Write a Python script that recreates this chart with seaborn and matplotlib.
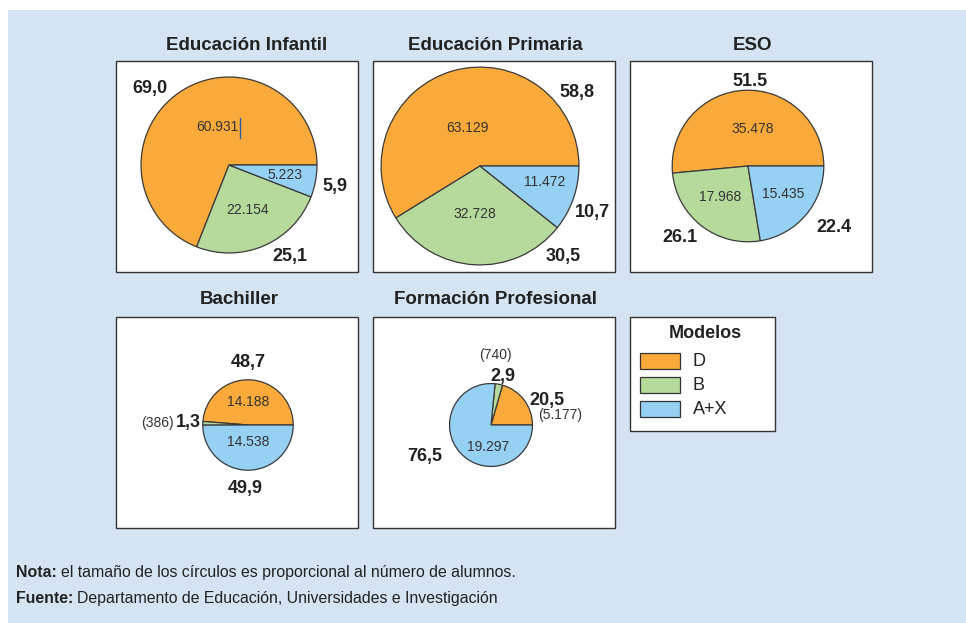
import matplotlib
matplotlib.use("Agg")
import matplotlib.pyplot as plt
from matplotlib.patches import Rectangle
import seaborn as sns

# Alumnado por modelo lingüístico y nivel educativo
levels = ["Educación Infantil", "Educación Primaria", "ESO", "Bachiller",
          "Formación Profesional"]
models = ["D", "B", "A+X"]
students_D = [60931, 63129, 35478, 14188, 5177]
students_B = [22154, 32728, 17968, 386, 740]
students_AX = [5223, 11472, 15435, 14538, 19297]
share_D = [69.0, 58.8, 51.5, 48.7, 20.5]
share_B = [25.1, 30.5, 26.1, 1.3, 2.9]
share_AX = [5.9, 10.7, 22.4, 49.9, 76.5]
decimal_mark = [",", ",", ".", ",", ","]

nota = "el tamaño de los círculos es proporcional al número de alumnos."
fuente = "Departamento de Educación, Universidades e Investigación"

sns.set_theme(style="white")
plt.rcParams["font.family"] = ["Liberation Sans", "DejaVu Sans"]

palette = sns.color_palette(["#F9AA3A", "#B6D99C", "#96D0F3"])
BG = "#D5E4F3"
INK = "#222222"
EDGE = "#3a3a3a"

W, H = 966, 623
fig = plt.figure(figsize=(W / 100, H / 100), dpi=100)
ax = fig.add_axes([0, 0, 1, 1])


def fy(y):
    return H - y


# panel background
ax.add_patch(Rectangle((8, 0), W - 8, H - 10, facecolor=BG, edgecolor="none", zorder=0))

# panel geometry: frame (x0, y0, x1, y1), pie centre, label positions
layout = [
    dict(box=(116, 61, 358, 272), title=(247, 45), center=(229, 165),
         pct=[(150, 89), (290, 257), (335, 186)],
         cnt=[(217, 127), (248, 210), (285, 175)], outside=[]),
    dict(box=(373, 61, 615, 272), title=(495, 45), center=(480, 166),
         pct=[(577, 92), (563, 257), (592, 213)],
         cnt=[(467, 128), (475, 214), (545, 182)], outside=[]),
    dict(box=(630, 61, 872, 272), title=(752, 45), center=(748, 166),
         pct=[(750, 82), (680, 238), (834, 227)],
         cnt=[(753, 129), (720, 197), (783, 194)], outside=[]),
    dict(box=(116, 317, 358, 528), title=(239, 300), center=(248, 425),
         pct=[(248, 363), (188, 423), (245, 488)],
         cnt=[(248, 402), (157, 423), (248, 442)], outside=[1]),
    dict(box=(373, 317, 615, 528), title=(495, 300), center=(491, 425),
         pct=[(547, 400), (503, 376), (425, 457)],
         cnt=[(560, 415), (495, 355), (488, 447)], outside=[0, 1]),
]


def fmt_count(n):
    return f"{n:,}".replace(",", ".")


totals = [d + b + a for d, b, a in zip(students_D, students_B, students_AX)]
# circle size grows with the number of students
scale = 0.0948

for i, lay in enumerate(layout):
    x0, y0, x1, y1 = lay["box"]
    ax.add_patch(Rectangle((x0, fy(y1)), x1 - x0, y1 - y0, facecolor="white",
                           edgecolor="#333333", linewidth=1.0, zorder=1))
    ax.text(lay["title"][0], fy(lay["title"][1]), levels[i], ha="center", va="center",
            fontsize=13.5, fontweight="bold", color=INK, zorder=5)

    shares = [share_D[i], share_B[i], share_AX[i]]
    counts = [students_D[i], students_B[i], students_AX[i]]
    radius = scale * totals[i] ** 0.6
    cx, cy = lay["center"]
    ax.pie(shares, colors=palette, startangle=0, counterclock=True,
           center=(cx, fy(cy)), radius=radius, frame=True,
           wedgeprops=dict(edgecolor=EDGE, linewidth=0.9, zorder=2))

    for j in range(3):
        px, pyy = lay["pct"][j]
        txt = f"{shares[j]:.1f}".replace(".", decimal_mark[i])
        ax.text(px, fy(pyy), txt, ha="center", va="center", fontsize=13,
                fontweight="bold", color=INK, zorder=5)
        qx, qy = lay["cnt"][j]
        if j in lay["outside"]:
            ax.text(qx, fy(qy), f"({fmt_count(counts[j])})", ha="center",
                    va="center", fontsize=10, color="#333333", zorder=5)
        else:
            ax.text(qx, fy(qy), fmt_count(counts[j]), ha="center", va="center",
                    fontsize=10, color="#333333", zorder=5)

# text caret left next to the first label
ax.plot([240, 240], [fy(118), fy(138)], color="#3355aa", linewidth=1.0, zorder=6)

ax.set_xlim(0, W)
ax.set_ylim(0, H)
ax.set_aspect("equal")
ax.axis("off")

# legend
ax.add_patch(Rectangle((630, fy(431)), 145, 114, facecolor="white",
                       edgecolor="#333333", linewidth=1.0, zorder=1))
ax.text(705, fy(333), "Modelos", ha="center", va="center", fontsize=13,
        fontweight="bold", color=INK, zorder=5)
for k, (name, yk) in enumerate(zip(models, [361, 385, 409])):
    ax.add_patch(Rectangle((640, fy(yk + 8)), 40, 16, facecolor=palette[k],
                           edgecolor="#333333", linewidth=0.9, zorder=2))
    ax.text(693, fy(yk), name, ha="left", va="center", fontsize=13,
            color=INK, zorder=5)

# footnotes
renderer = fig.canvas.get_renderer()
for label, body, yy in [("Nota:", nota, 577), ("Fuente:", fuente, 603)]:
    t = ax.text(16, fy(yy), label, ha="left", va="baseline", fontsize=11.4,
                fontweight="bold", color=INK, zorder=5)
    bb = t.get_window_extent(renderer)
    ax.text(bb.x1 + 4, fy(yy), body, ha="left", va="baseline", fontsize=11.4,
            color=INK, zorder=5)

fig.savefig("out.png", dpi=100, facecolor="white")
